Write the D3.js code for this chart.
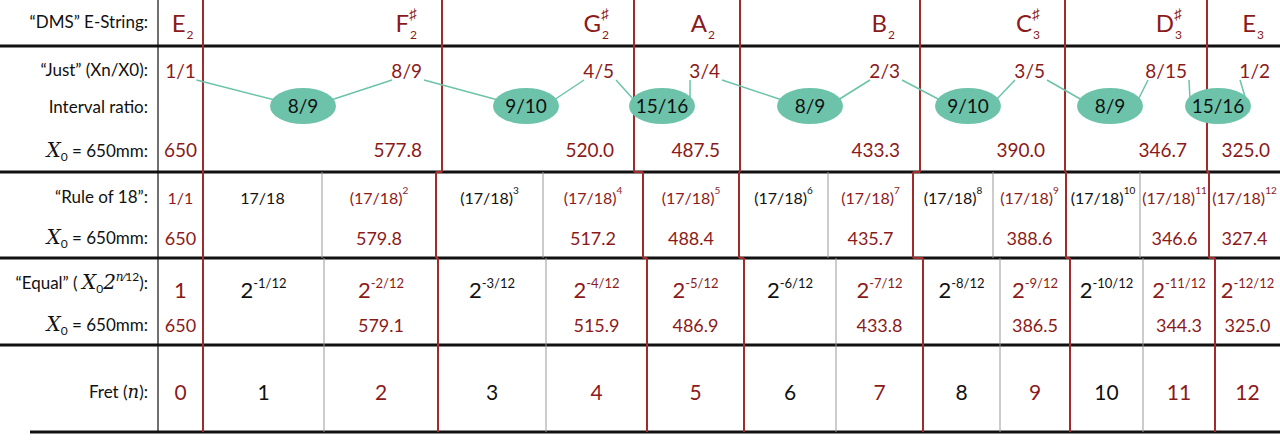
<!DOCTYPE html>
<html><head><meta charset="utf-8">
<script src="https://cdn.jsdelivr.net/npm/d3@7"></script>
<style>body{margin:0;background:#fff}svg{display:block}text{font-family:Lato,"Open Sans",sans-serif}</style>
</head><body><svg id="c" width="1280" height="441"></svg>
<script>
// ---- data ----
const notes = [["E","2",false],["F","2",true],["G","2",true],["A","2",false],["B","2",false],["C","3",true],["D","3",true],["E","3",false]];
const justRatios = ["1/1","8/9","4/5","3/4","2/3","3/5","8/15","1/2"];
const justLengths = ["650","577.8","520.0","487.5","433.3","390.0","346.7","325.0"];
const intervals = ["8/9","9/10","15/16","8/9","9/10","8/9","15/16"];
const frets = [0,1,2,3,4,5,6,7,8,9,10,11,12];
const ruleLengths = ["650","","579.8","","517.2","488.4","","435.7","","388.6","","346.6","327.4"];
const equalLengths = ["650","","579.1","","515.9","486.9","","433.8","","386.5","","344.3","325.0"];
const noteFrets = [0,2,4,5,7,9,11,12];

// ---- layout ----
const RED="#8b1a1a", LINE="#a32a2a", GREEN="#6cc3a9";
const svg=d3.select("#c");
const justX=[158,203,442,634,740,920,1065,1207,1280];
const ruleX=[158,203,322,436,543,643,739,828,913,993,1066,1140,1209,1280];
const eqX=[158,203,324,438,546,647,744,836,923,1000,1070,1143,1215,1280];
const rows={just:46,rule:172,eq:258,fret:345,bot:432};
const isNote=f=>noteFrets.includes(f);
const col=f=>isNote(f)?RED:"#111";

[rows.just,rows.rule,rows.eq,rows.fret].forEach(y=>svg.append("line").attr("x1",0).attr("x2",1280).attr("y1",y).attr("y2",y).attr("stroke","#111").attr("stroke-width",3));
svg.append("line").attr("x1",30).attr("x2",1280).attr("y1",rows.bot).attr("y2",rows.bot).attr("stroke","#111").attr("stroke-width",3);
svg.append("line").attr("x1",158).attr("x2",158).attr("y1",0).attr("y2",rows.bot).attr("stroke","#111").attr("stroke-width",1.2);

function greys(xs,y1,y2){
  frets.forEach((f,i)=>{ if(i<12 && !isNote(f)) svg.append("line").attr("x1",xs[i+1]).attr("x2",xs[i+1]).attr("y1",y1).attr("y2",y2).attr("stroke","#999").attr("stroke-width",1);});
}
greys(ruleX,rows.rule,rows.eq); greys(eqX,rows.eq,rows.bot);
function reds(xs,y1,y2){ noteFrets.forEach(f=>{ const x=xs[f+1]; if(f<12) svg.append("line").attr("x1",x).attr("x2",x).attr("y1",y1).attr("y2",y2).attr("stroke",LINE).attr("stroke-width",2);}); }
const jx=justX.slice(1,8);
jx.forEach(x=>svg.append("line").attr("x1",x).attr("x2",x).attr("y1",0).attr("y2",rows.rule).attr("stroke",LINE).attr("stroke-width",2));
reds(ruleX,rows.rule,rows.eq); reds(eqX,rows.eq,rows.bot);
noteFrets.slice(0,7).forEach((f,k)=>{
  svg.append("line").attr("x1",jx[k]).attr("x2",ruleX[f+1]).attr("y1",rows.rule).attr("y2",rows.rule).attr("stroke",LINE).attr("stroke-width",2);
  svg.append("line").attr("x1",ruleX[f+1]).attr("x2",eqX[f+1]).attr("y1",rows.eq).attr("y2",rows.eq).attr("stroke",LINE).attr("stroke-width",2);
});

function lab(y,parts,size=17){
  const t=svg.append("text").attr("x",148).attr("y",y).attr("text-anchor","end").attr("font-size",size).attr("fill","#111");
  parts.forEach(p=>{const s=t.append("tspan").text(p.t); if(p.it){s.attr("font-family","'DejaVu Serif',serif").attr("font-style","italic").attr("font-size",p.fs||20);} if(p.dy)s.attr("dy",p.dy); if(p.fs&&!p.it)s.attr("font-size",p.fs);});
}
const X0=y=>lab(y,[{t:"X",it:true},{t:"0",fs:12,dy:4},{t:" = 650mm:",dy:-4}]);
lab(28,[{t:"“DMS” E-String:"}]);
lab(76,[{t:"“Just” (Xn/X0):"}]);
lab(113,[{t:"Interval ratio:"}]);
X0(157);
lab(203,[{t:"“Rule of 18”:"}]);
X0(244);
lab(289,[{t:"“Equal” ( "},{t:"X",it:true},{t:"0",fs:12,dy:4},{t:"2",it:true,dy:-4},{t:"n",it:true,fs:12,dy:-8},{t:"⁄12",fs:12},{t:"):",dy:8}]);
X0(331);
lab(398,[{t:"Fret ("},{t:"n",it:true,fs:18},{t:"):"}]);

// notes row
notes.forEach((n,k)=>{
  const x0=justX[k+1], x1=justX[k+2-1+1];
  const L=justX[k], R=justX[k+1];
  const ax=k==0?(L+R)/2+5:(k==7?R-24:R-33);
  svg.append("text").attr("x",ax).attr("y",32).attr("text-anchor","end").attr("font-size",24).attr("fill",RED).text(n[0]);
  svg.append("text").attr("x",ax+1).attr("y",39).attr("font-size",12).attr("fill",RED).text(n[1]);
  if(n[2]) svg.append("text").attr("x",ax).attr("y",19).attr("font-size",15).attr("fill",RED).text("♯");
});
const jr=k=>k==0?(justX[0]+justX[1])/2:(k==7?justX[k+1]-10:justX[k+1]-20);
justRatios.forEach((r,k)=>{
  svg.append("text").attr("x",jr(k)).attr("y",78).attr("text-anchor",k==0?"middle":"end").attr("font-size",19).attr("fill",RED).text(r);
  svg.append("text").attr("x",jr(k)).attr("y",157).attr("text-anchor",k==0?"middle":"end").attr("font-size",19).attr("fill",RED).text(justLengths[k]);
});
const ex=[303,526,662,810,968,1110,1218];
const rightOf=k=>k==0?jr(0)+16:jr(k)+2;
const leftOf=k=>jr(k)-justRatios[k].length*9-3;
intervals.forEach((v,k)=>{
  svg.append("line").attr("x1",rightOf(k)).attr("y1",80).attr("x2",ex[k]-28).attr("y2",100).attr("stroke",GREEN).attr("stroke-width",1.5);
  svg.append("line").attr("x1",ex[k]+28).attr("y1",100).attr("x2",leftOf(k+1)).attr("y2",80).attr("stroke",GREEN).attr("stroke-width",1.5);
});
intervals.forEach((v,k)=>{
  svg.append("ellipse").attr("cx",ex[k]).attr("cy",106).attr("rx",33).attr("ry",18).attr("fill",GREEN);
  svg.append("text").attr("x",ex[k]).attr("y",113).attr("text-anchor","middle").attr("font-size",19).attr("fill","#111").text(v);
});
frets.forEach((f,i)=>{
  const cx=(ruleX[i]+ruleX[i+1])/2;
  const t=svg.append("text").attr("x",cx).attr("y",204).attr("text-anchor","middle").attr("font-size",16).attr("fill",col(f));
  if(f==0) t.text("1/1");
  else if(f==1) t.text("17/18");
  else { t.append("tspan").text("(17/18)"); t.append("tspan").attr("font-size",10).attr("dy",-10).text(f); }
  if(ruleLengths[i]) svg.append("text").attr("x",cx).attr("y",245).attr("text-anchor","middle").attr("font-size",18).attr("fill",RED).text(ruleLengths[i]);
});
frets.forEach((f,i)=>{
  const cx=(eqX[i]+eqX[i+1])/2;
  const t=svg.append("text").attr("x",cx).attr("y",298).attr("text-anchor","middle").attr("font-size",22).attr("fill",col(f));
  if(f==0) t.text("1");
  else { t.append("tspan").text("2"); t.append("tspan").attr("font-size",13).attr("dy",-10).text("-"+f+"/12"); }
  if(equalLengths[i]) svg.append("text").attr("x",cx).attr("y",332).attr("text-anchor","middle").attr("font-size",18).attr("fill",RED).text(equalLengths[i]);
  svg.append("text").attr("x",cx).attr("y",400).attr("text-anchor","middle").attr("font-size",21).attr("fill",col(f)).text(f);
});
</script></body></html>
